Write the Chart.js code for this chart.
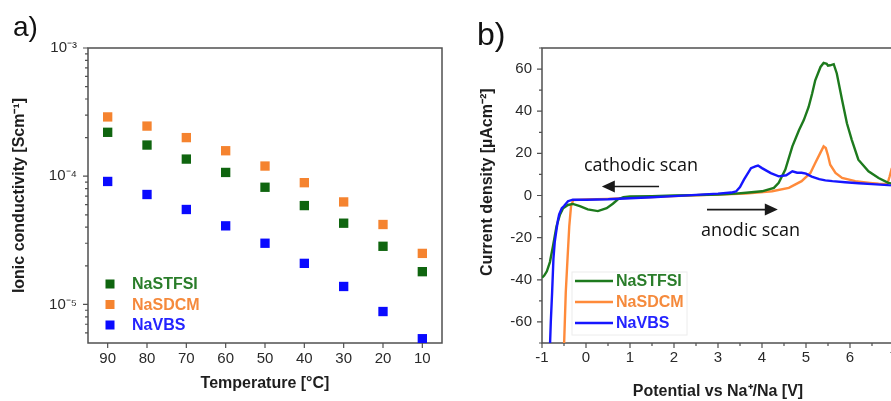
<!DOCTYPE html>
<html>
<head>
<meta charset="utf-8">
<script src="https://cdn.jsdelivr.net/npm/chart.js@4.4.1/dist/chart.umd.min.js"></script>
<style>
  body { margin: 0; background: #fff; width: 891px; height: 401px; overflow: hidden; position: relative; font-family: "Liberation Sans", Arial, sans-serif; }
  canvas { position: absolute; top: 0; }
  #chartA { left: 0; }
  #chartB { left: 450px; }
  .tag { position: absolute; line-height: 1; color: #111; }
  .note { position: absolute; font-family: "Open Sans", sans-serif; font-size: 18px; line-height: 1; color: #111; white-space: nowrap; }
</style>
</head>
<body>
<canvas id="chartA" width="450" height="401"></canvas>
<canvas id="chartB" width="466" height="401"></canvas>
<div class="tag" style="left:13px;top:13px;font-size:28px">a)</div>
<div class="tag" style="left:477px;top:18px;font-size:32px">b)</div>
<div class="note" style="left:584px;top:155px">cathodic scan</div>
<div class="note" style="left:701px;top:220px">anodic scan</div>
<script>
// ---- panel a: ionic conductivity vs temperature ----
const temps = [90, 80, 70, 60, 50, 40, 30, 20, 10];
const condSTFSI = [2.2e-4, 1.75e-4, 1.36e-4, 1.07e-4, 8.2e-5, 5.9e-5, 4.3e-5, 2.84e-5, 1.8e-5];
const condSDCM = [2.9e-4, 2.46e-4, 2.0e-4, 1.58e-4, 1.2e-4, 8.9e-5, 6.3e-5, 4.2e-5, 2.5e-5];
const condVBS = [9.1e-5, 7.2e-5, 5.5e-5, 4.1e-5, 3.0e-5, 2.09e-5, 1.38e-5, 8.8e-6, 5.4e-6];
const tempTicks = [90, 80, 70, 60, 50, 40, 30, 20, 10];
const condMajor = [1e-5, 1e-4, 1e-3];
const condMinor = [6e-6, 7e-6, 8e-6, 9e-6, 2e-5, 3e-5, 4e-5, 5e-5, 6e-5, 7e-5, 8e-5, 9e-5,
                   2e-4, 3e-4, 4e-4, 5e-4, 6e-4, 7e-4, 8e-4, 9e-4];

// ---- panel b: linear sweep voltammetry ----
const vSTFSI = [-1.0, -0.95, -0.89, -0.82, -0.75, -0.67, -0.59, -0.52, -0.41, -0.3, -0.14, 0.04, 0.27, 0.47, 0.61, 0.72,
                0.85, 1.0, 1.5, 2.0, 2.5, 3.0, 3.4, 3.7, 4.0, 4.27, 4.38, 4.53, 4.69, 4.84, 4.95, 5.06, 5.14, 5.21, 5.33,
                5.4, 5.47, 5.5, 5.55, 5.63, 5.7, 5.82, 5.93, 6.04, 6.19, 6.42, 6.65, 6.87, 7.0];
const iSTFSI = [-39, -38, -36, -31.6, -24, -14.6, -9, -6, -4.5, -4, -5, -6.6, -7.4, -6, -3.9, -1.9,
                -0.8, -0.5, -0.3, 0, 0.2, 0.5, 0.9, 1.4, 2, 3.6, 6, 12.3, 23.3, 31, 35.8, 42, 48.4, 54.7, 61,
                62.9, 62.5, 61.6, 61.8, 62.3, 57.9, 45.3, 34.3, 26.4, 17, 11.5, 8.3, 6, 5.5];
const vSDCM = [-0.5, -0.46, -0.42, -0.38, -0.34, -0.29, 0, 0.5, 1.0, 1.5, 2.0, 2.5, 3.0, 3.63, 4.23, 4.61, 4.9,
               5.1, 5.21, 5.32, 5.4, 5.45, 5.5, 5.55, 5.67, 5.82, 6.12, 6.45, 6.65, 6.85, 6.9, 6.95];
const iSDCM = [-72, -46, -30, -14.5, -5, -2.2, -1.9, -1.6, -1.1, -0.7, -0.3, 0.1, 0.5, 0.9, 2, 3.6, 6.8,
               10.7, 15.4, 20, 23.3, 22.5, 19, 14.6, 10.7, 8.3, 6.8, 6, 5.6, 5.5, 9, 13];
const vVBS = [-0.82, -0.8, -0.77, -0.74, -0.71, -0.68, -0.64, -0.61, -0.55, -0.5, -0.41, -0.3, 0, 0.5, 1.0, 1.5,
              2.0, 2.5, 3.0, 3.3, 3.41, 3.5, 3.59, 3.75, 3.85, 3.91, 4.0, 4.1, 4.2, 4.38, 4.55, 4.69, 4.8, 4.9,
              5.0, 5.13, 5.3, 5.44, 5.6, 5.89, 6.2, 6.5, 6.87, 7.0];
const iVBS = [-72, -60, -46, -30, -22, -17.6, -12, -9, -6, -5, -2.7, -2, -2, -1.8, -1.3, -0.8,
              -0.3, 0.3, 0.9, 1.4, 1.9, 4, 7.5, 13, 13.8, 14.2, 13, 11.8, 10.6, 9.1, 9.6, 11.5, 10.8, 10.8,
              10.4, 9, 7.8, 7.2, 6.8, 6.3, 5.8, 5.4, 4.9, 4.8];
const voltTicks = [-1, 0, 1, 2, 3, 4, 5, 6, 7];
const voltMinor = [-0.5, 0.5, 1.5, 2.5, 3.5, 4.5, 5.5, 6.5];
const currTicks = [-60, -40, -20, 0, 20, 40, 60];
const currMinor = [-70, -50, -30, -10, 10, 30, 50, 70];

const GREEN = '#0f650f', ORANGE = '#f5832f', BLUE = '#0a0aff';
const GREEN_LINE = '#1d7a1d', ORANGE_LINE = '#ff8a3a', BLUE_LINE = '#1616ff';
const GREEN_TXT = '#2a7d2a', ORANGE_TXT = '#f58a3c', BLUE_TXT = '#2424ff';
const FONT = '"Liberation Sans", Arial, sans-serif';

const sup = { '-': '⁻', '0': '⁰', '1': '¹', '2': '²', '3': '³', '4': '⁴', '5': '⁵', '6': '⁶' };
function powLabel(v) {
    const e = Math.round(Math.log10(v));
    return '10' + String(e).split('').map(c => sup[c]).join('');
}
function pairs(xs, ys) {
    return xs.map((x, i) => ({ x: x, y: ys[i] }));
}

// box around the plot area plus outward tick marks
const frame = {
    id: 'frame',
    beforeDatasetsDraw(chart, args, o) {
        const { ctx, chartArea: a, scales } = chart;
        ctx.save();
        ctx.strokeStyle = '#505050';
        ctx.lineWidth = 1.5;
        ctx.strokeRect(a.left, a.top, a.right - a.left, a.bottom - a.top);
        ctx.lineWidth = 1.2;
        ctx.beginPath();
        const xt = (vals, len) => vals.forEach(v => {
            const p = scales.x.getPixelForValue(v);
            ctx.moveTo(p, a.bottom); ctx.lineTo(p, a.bottom + len);
        });
        const yt = (vals, len) => vals.forEach(v => {
            const p = scales.y.getPixelForValue(v);
            ctx.moveTo(a.left, p); ctx.lineTo(a.left - len, p);
        });
        xt(o.xMajor || [], 5); xt(o.xMinor || [], 3);
        yt(o.yMajor || [], 5); yt(o.yMinor || [], 3);
        ctx.stroke();
        ctx.restore();
    }
};

const seriesLegend = {
    id: 'seriesLegend',
    afterDraw(chart, args, o) {
        const ctx = chart.ctx;
        ctx.save();
        if (o.box) {
            ctx.strokeStyle = '#ececec';
            ctx.lineWidth = 1;
            ctx.strokeRect(o.box[0], o.box[1], o.box[2], o.box[3]);
        }
        ctx.font = 'bold 16px ' + FONT;
        ctx.textBaseline = 'middle';
        chart.data.datasets.forEach((ds, i) => {
            const y = o.y + i * o.gap;
            if (o.mark === 'rect') {
                ctx.fillStyle = ds.backgroundColor;
                ctx.fillRect(o.x - 4.5, y - 4.5, 9, 9);
            } else {
                ctx.strokeStyle = ds.borderColor;
                ctx.lineWidth = 2.5;
                ctx.beginPath();
                ctx.moveTo(o.x, y); ctx.lineTo(o.x + o.len, y);
                ctx.stroke();
            }
            ctx.fillStyle = ds.textColor;
            ctx.fillText(ds.label, o.textX, y + 1);
        });
        ctx.restore();
    }
};

const arrows = {
    id: 'arrows',
    afterDatasetsDraw(chart, args, o) {
        const { ctx, scales } = chart;
        ctx.save();
        ctx.strokeStyle = '#1a1a1a';
        ctx.fillStyle = '#1a1a1a';
        ctx.lineWidth = 1.6;
        (o.list || []).forEach(ar => {
            const x0 = scales.x.getPixelForValue(ar.from[0]), y0 = scales.y.getPixelForValue(ar.from[1]);
            const x1 = scales.x.getPixelForValue(ar.to[0]), y1 = scales.y.getPixelForValue(ar.to[1]);
            const dir = Math.sign(x1 - x0);
            ctx.beginPath();
            ctx.moveTo(x0, y0); ctx.lineTo(x1 - dir * 10, y1);
            ctx.stroke();
            ctx.beginPath();
            ctx.moveTo(x1, y1);
            ctx.lineTo(x1 - dir * 13, y1 - 6);
            ctx.lineTo(x1 - dir * 13, y1 + 6);
            ctx.closePath();
            ctx.fill();
        });
        ctx.restore();
    }
};

const tickFont = { family: FONT, size: 15 };
const titleFont = { family: FONT, size: 16, weight: 'bold' };

new Chart(document.getElementById('chartA'), {
    type: 'scatter',
    data: {
        datasets: [
            { label: 'NaSTFSI', data: pairs(temps, condSTFSI), backgroundColor: GREEN, textColor: GREEN_TXT },
            { label: 'NaSDCM', data: pairs(temps, condSDCM), backgroundColor: ORANGE, textColor: ORANGE_TXT },
            { label: 'NaVBS', data: pairs(temps, condVBS), backgroundColor: BLUE, textColor: BLUE_TXT }
        ]
    },
    options: {
        responsive: false,
        animation: false,
        devicePixelRatio: 1,
        layout: { padding: { left: 0, right: 8, top: 48, bottom: 0 } },
        elements: { point: { pointStyle: 'rect', radius: 6.6, borderWidth: 0 } },
        plugins: {
            legend: { display: false },
            tooltip: { enabled: false },
            frame: { xMajor: tempTicks, yMajor: condMajor, yMinor: condMinor },
            seriesLegend: { mark: 'rect', x: 110, y: 284, gap: 20.5, textX: 132 }
        },
        scales: {
            x: {
                type: 'linear', min: 5, max: 95, reverse: true,
                afterBuildTicks: s => { s.ticks = tempTicks.map(v => ({ value: v })); },
                afterFit: s => { s.height = 58; },
                grid: { display: false, drawTicks: false },
                border: { display: false },
                ticks: { font: tickFont, color: '#2a2a2a', padding: 7 },
                title: { display: true, text: 'Temperature [°C]', font: titleFont, color: '#1e1e1e', padding: { top: 0, bottom: 8 } }
            },
            y: {
                type: 'logarithmic', min: 5e-6, max: 1e-3,
                afterBuildTicks: s => { s.ticks = condMajor.map(v => ({ value: v })); },
                afterFit: s => { s.width = 88; },
                grid: { display: false, drawTicks: false },
                border: { display: false },
                ticks: { font: tickFont, color: '#2a2a2a', padding: 11, callback: v => powLabel(v) },
                title: { display: true, text: 'Ionic conductivity [Scm⁻¹]', font: titleFont, color: '#1e1e1e', padding: { top: 10, bottom: 0 } }
            }
        }
    },
    plugins: [frame, seriesLegend]
});

new Chart(document.getElementById('chartB'), {
    type: 'scatter',
    data: {
        datasets: [
            { label: 'NaSTFSI', data: pairs(vSTFSI, iSTFSI), borderColor: GREEN_LINE, textColor: GREEN_TXT, order: 2 },
            { label: 'NaSDCM', data: pairs(vSDCM, iSDCM), borderColor: ORANGE_LINE, textColor: ORANGE_TXT, order: 3 },
            { label: 'NaVBS', data: pairs(vVBS, iVBS), borderColor: BLUE_LINE, textColor: BLUE_TXT, order: 1 }
        ]
    },
    options: {
        responsive: false,
        animation: false,
        devicePixelRatio: 1,
        showLine: true,
        layout: { padding: { left: 0, right: 22, top: 48, bottom: 0 } },
        elements: {
            point: { radius: 0 },
            line: { borderWidth: 2.4, tension: 0 }
        },
        plugins: {
            legend: { display: false },
            tooltip: { enabled: false },
            frame: { xMajor: voltTicks, xMinor: voltMinor, yMajor: currTicks, yMinor: currMinor },
            seriesLegend: { mark: 'line', x: 125, len: 38, y: 281, gap: 21, textX: 166, box: [122, 272, 115, 63] },
            arrows: { list: [ { from: [1.66, 4.3], to: [0.36, 4.3] }, { from: [2.75, -6.7], to: [4.36, -6.7] } ] }
        },
        scales: {
            x: {
                type: 'linear', min: -1, max: 7,
                afterBuildTicks: s => { s.ticks = voltTicks.map(v => ({ value: v })); },
                afterFit: s => { s.height = 58; },
                grid: { display: false, drawTicks: false },
                border: { display: false },
                ticks: { font: tickFont, color: '#2a2a2a', padding: 6 },
                title: { display: true, text: 'Potential vs Na⁺/Na [V]', font: titleFont, color: '#1e1e1e', padding: { top: 0, bottom: 0 } }
            },
            y: {
                type: 'linear', min: -70, max: 70,
                afterBuildTicks: s => { s.ticks = currTicks.map(v => ({ value: v })); },
                afterFit: s => { s.width = 92; },
                grid: { display: false, drawTicks: false },
                border: { display: false },
                ticks: { font: tickFont, color: '#2a2a2a', padding: 10 },
                // leading spaces nudge the rotated title up a little, as in the original
                title: { display: true, text: '      Current density [µAcm⁻²]', font: titleFont, color: '#1e1e1e', padding: { top: 28, bottom: 0 } }
            }
        }
    },
    plugins: [frame, seriesLegend, arrows]
});
</script>
</body>
</html>
